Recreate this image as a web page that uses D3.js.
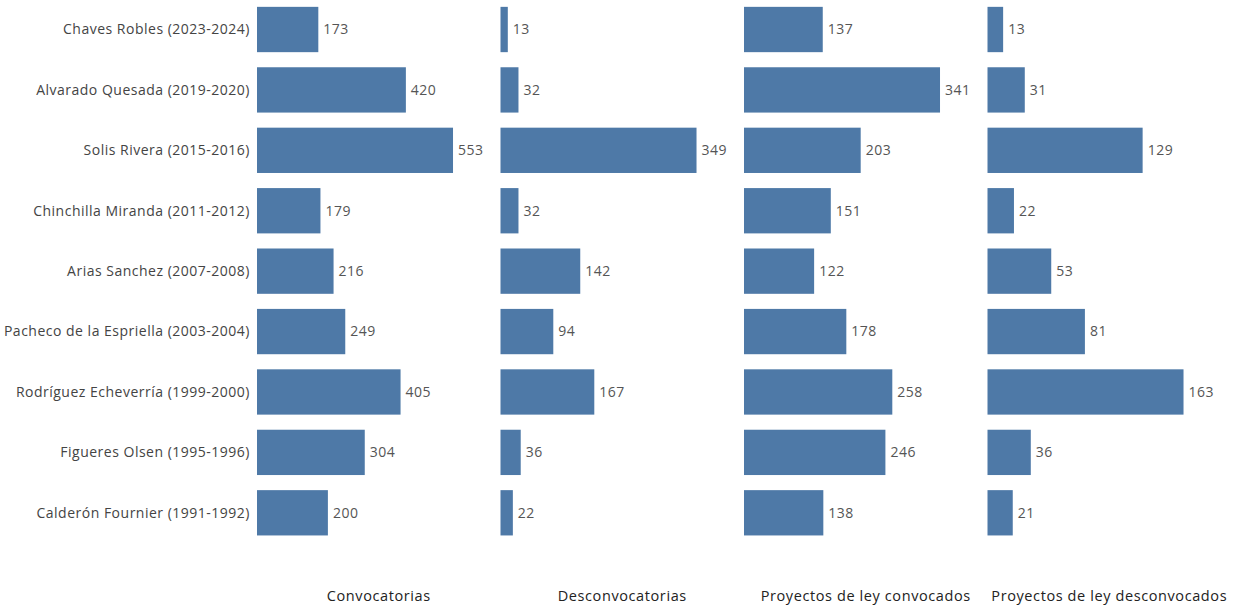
<!DOCTYPE html>
<html>
<head>
<meta charset="utf-8">
<script src="https://cdn.jsdelivr.net/npm/d3@7"></script>
<style>
  body { margin: 0; background: #fff; }
  text { font-family: "Open Sans", sans-serif; }
</style>
</head>
<body>
<div id="chart"></div>
<script>
// gobiernos, de arriba hacia abajo
var periodos = [
    "Chaves Robles (2023-2024)",
    "Alvarado Quesada (2019-2020)",
    "Solis Rivera (2015-2016)",
    "Chinchilla Miranda (2011-2012)",
    "Arias Sanchez (2007-2008)",
    "Pacheco de la Espriella (2003-2004)",
    "Rodríguez Echeverría (1999-2000)",
    "Figueres Olsen (1995-1996)",
    "Calderón Fournier (1991-1992)"
];
var medidas = ["Convocatorias", "Desconvocatorias", "Proyectos de ley convocados", "Proyectos de ley desconvocados"];
var convocatorias = [173, 420, 553, 179, 216, 249, 405, 304, 200];
var desconvocatorias = [13, 32, 349, 32, 142, 94, 167, 36, 22];
var proyectosConvocados = [137, 341, 203, 151, 122, 178, 258, 246, 138];
var proyectosDesconvocados = [13, 31, 129, 22, 53, 81, 163, 36, 21];

var series = [convocatorias, desconvocatorias, proyectosConvocados, proyectosDesconvocados];

var width = 1237, height = 606;
var left = 257, panelW = 243.5;

var svg = d3.select("#chart").append("svg")
    .attr("width", width)
    .attr("height", height);

var y = d3.scaleBand()
    .domain(periodos)
    .range([-0.7, 543])
    .paddingInner(0.25)
    .paddingOuter(0.125);

// etiquetas de filas
svg.selectAll(".rowlabel")
    .data(periodos)
    .enter()
    .append("text")
    .attr("class", "rowlabel")
    .attr("x", left - 7)
    .attr("y", function (d) { return y(d) + y.bandwidth() / 2; })
    .attr("dy", "0.35em")
    .attr("text-anchor", "end")
    .style("font-size", "14px")
    .style("letter-spacing", "0.5px")
    .style("fill", "#444")
    .text(function (d) { return d; });

series.forEach(function (vals, i) {
    var x0 = left + i * panelW;
    var x = d3.scaleLinear()
        .domain([0, d3.max(vals) / 0.805]) // cada panel con su propia escala
        .range([0, panelW]);

    var g = svg.append("g").attr("transform", "translate(" + x0 + ",0)");

    g.selectAll(".bar")
        .data(vals)
        .enter()
        .append("rect")
        .attr("class", "bar")
        .attr("x", 0)
        .attr("y", function (d, j) { return y(periodos[j]); })
        .attr("width", function (d) { return x(d); })
        .attr("height", y.bandwidth())
        .attr("fill", "#4e79a7");

    g.selectAll(".val")
        .data(vals)
        .enter()
        .append("text")
        .attr("class", "val")
        .attr("x", function (d) { return x(d) + 5; })
        .attr("y", function (d, j) { return y(periodos[j]) + y.bandwidth() / 2; })
        .attr("dy", "0.35em")
        .style("font-size", "14px")
        .style("letter-spacing", "0.5px")
        .style("fill", "#555")
        .text(function (d) { return d; });

    g.append("text")
        .attr("x", panelW / 2)
        .attr("y", 601)
        .attr("text-anchor", "middle")
        .style("font-size", "14.5px")
        .style("letter-spacing", "0.6px")
        .style("fill", "#222")
        .text(medidas[i]);
});
</script>
</body>
</html>
